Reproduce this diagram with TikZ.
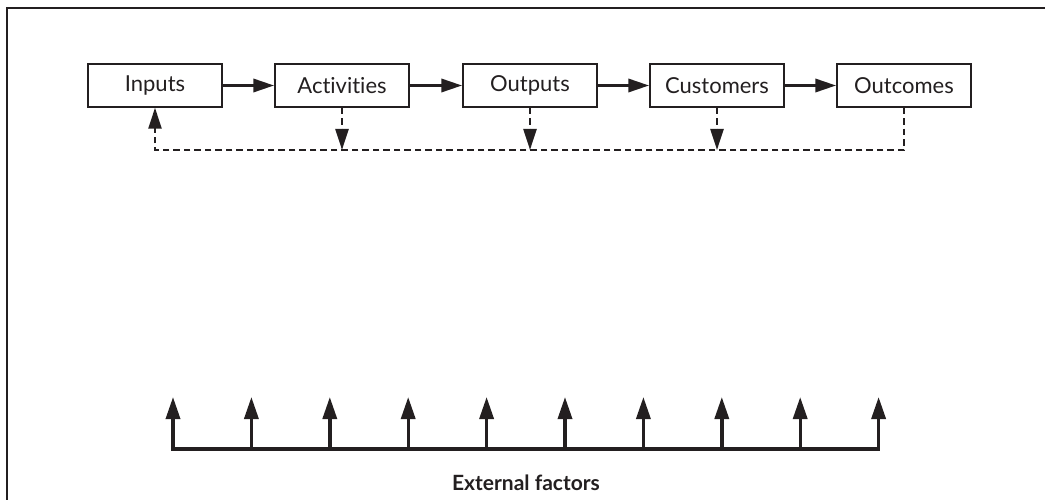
\documentclass[tikz,border=0pt]{standalone}
\usepackage{fontspec}
\setmainfont{Lato}[Ligatures={NoCommon}]
\usetikzlibrary{arrows.meta}
\definecolor{ink}{HTML}{231F20}
\begin{document}
\begin{tikzpicture}[x=1pt,y=-1pt,
  box/.style={draw=ink,line width=1.4pt,minimum width=134pt,minimum height=43pt,inner sep=0pt,
    font=\fontsize{22}{26}\selectfont,text=ink},
  flow/.style={draw=ink,line width=3.4pt,-{Triangle[length=21pt,width=13pt]}},
  fb/.style={draw=ink,line width=2.3pt,dash pattern=on 6.5pt off 4pt},
  fbarrow/.style={fb,-{Triangle[length=21pt,width=13pt]}},
  ext/.style={draw=ink,line width=3.4pt,-{Triangle[length=22pt,width=14pt]}},
  lbl/.style={font=\bfseries\fontsize{21}{25}\selectfont,text=ink}
]
\useasboundingbox (0,0) rectangle (1045,500);
\coordinate (fr1) at (1045,8.5);
\coordinate (fr2) at (6.5,8.5);
\coordinate (fr3) at (6.5,500);
\draw[ink,line width=2pt] (fr1) -- (fr2) -- (fr3);

\node[box] (in)  at (155,85.5) {Inputs};
\node[box] (act) at (342,85.5) {Activities};
\node[box] (out) at (530,85.5) {Outputs};
\node[box] (cus) at (717,85.5) {Customers};
\node[box] (oc)  at (904,85.5) {Outcomes};

\draw[flow] (in) -- (act);
\draw[flow] (act) -- (out);
\draw[flow] (out) -- (cus);
\draw[flow] (cus) -- (oc);

\coordinate (fbL) at (155,150);
\draw[fbarrow] (oc.south) -- (oc.south |- fbL) -- (fbL) -- (in.south);
\draw[fbarrow] (act.south) -- (act.south |- fbL);
\draw[fbarrow] (out.south) -- (out.south |- fbL);
\draw[fbarrow] (cus.south) -- (cus.south |- fbL);

\foreach \i in {0,...,9} {
  \coordinate (b\i) at ({173+78.4*\i},449);
  \coordinate (t\i) at ({173+78.4*\i},397);
}
\draw[ink,line width=3.4pt,line cap=rect] (b0) -- (b9);
\foreach \i in {0,...,9} {
  \draw[ext] (b\i) -- (t\i);
}
\node[lbl] (ef) at (526,483) {External factors};
\end{tikzpicture}
\end{document}
